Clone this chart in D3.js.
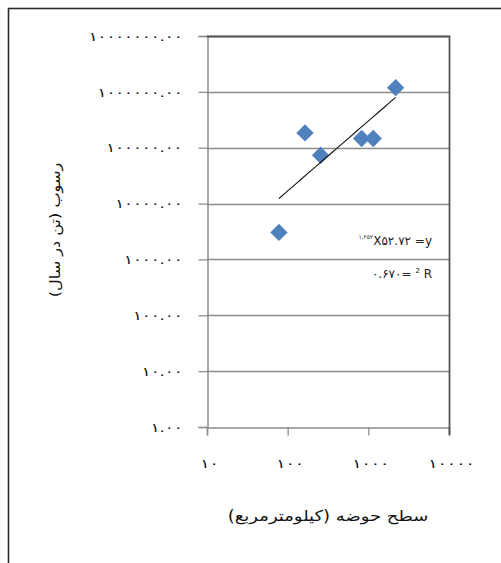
<!DOCTYPE html>
<html>
<head>
<meta charset="utf-8">
<script src="https://cdn.jsdelivr.net/npm/d3@7"></script>
<style>
  html, body { margin: 0; padding: 0; background: #fff; }
  svg { display: block; }
</style>
</head>
<body>
<script>
// Basin area (km²) and sediment load (tonnes/year)
const areaKm2 = [78, 164, 256, 826, 1150, 2180];
const sediment = [3040, 184000, 73400, 146000, 146000, 1190000];

// Power-law trend: y = a · x^b
const trendA = 52.72;
const trendB = 1.252;
const equationText = "X۵۲.۷۲ =y";
const exponentText = "۱.۲۵۲";
const r2Text = "۰.۶۷۰= ";

const yTicks = [1, 10, 100, 1000, 10000, 100000, 1000000, 10000000];
const xTicks = [10, 100, 1000, 10000];

const faDigits = "۰۱۲۳۴۵۶۷۸۹";
const toFa = s => String(s).replace(/[0-9]/g, d => faDigits[+d]);

const W = 501, H = 563;
const plot = { left: 207, right: 449, top: 36, bottom: 427 };

const svg = d3.select("body").append("svg")
  .attr("width", W).attr("height", H);

// outer chart frame (runs past the right and bottom edges)
svg.append("rect")
  .attr("x", 8.5).attr("y", 8.5)
  .attr("width", 600).attr("height", 700)
  .attr("fill", "none").attr("stroke", "#2b2b2b").attr("stroke-width", 1.6);

const x = d3.scaleLog().domain([10, 10000]).range([plot.left, plot.right]);
const y = d3.scaleLog().domain([1, 10000000]).range([plot.bottom, plot.top]);

const fontFa = "'DejaVu Sans', sans-serif";

// horizontal gridlines
svg.append("g").selectAll("line")
  .data(yTicks.slice(1))
  .join("line")
  .attr("x1", plot.left).attr("x2", plot.right)
  .attr("y1", d => Math.round(y(d)) + 0.5).attr("y2", d => Math.round(y(d)) + 0.5)
  .attr("stroke", "#8c8c8c").attr("stroke-width", 1.3);

// y axis
const yAxis = svg.append("g")
  .attr("transform", `translate(${plot.left + 0.5},0)`)
  .call(d3.axisLeft(y).tickValues(yTicks).tickSize(9)
    .tickFormat(d => toFa(d) + "." + toFa("00")));
yAxis.select(".domain").attr("stroke", "#8c8c8c").attr("stroke-width", 1.5);
yAxis.selectAll(".tick line").attr("stroke", "#8c8c8c").attr("stroke-width", 1.3);
yAxis.selectAll(".tick text")
  .attr("x", 0)
  .attr("transform", "translate(-25,0) scale(1.27,1)")
  .attr("font-family", fontFa).attr("font-size", 13).attr("fill", "#111");

// x axis
const xAxis = svg.append("g")
  .attr("transform", `translate(0,${plot.bottom + 0.5})`)
  .call(d3.axisBottom(x).tickValues(xTicks).tickSize(8)
    .tickFormat(d => toFa(d)));
xAxis.select(".domain").attr("stroke", "#8c8c8c").attr("stroke-width", 1.5);
xAxis.selectAll(".tick line").attr("stroke", "#8c8c8c").attr("stroke-width", 1.3);
xAxis.selectAll(".tick text")
  .attr("y", 0).attr("dy", 0)
  .attr("transform", "translate(2,40) scale(1.33,1)")
  .attr("font-family", fontFa).attr("font-size", 13).attr("fill", "#111");

// plot frame: top and right edges
svg.append("path")
  .attr("d", `M${plot.left},${plot.top + 0.5}H${plot.right + 0.5}V${plot.bottom + 8}`)
  .attr("fill", "none").attr("stroke", "#555").attr("stroke-width", 1.8);

// points
const diamond = d3.symbol().type(d3.symbolSquare).size(150);
svg.append("g").selectAll("path")
  .data(areaKm2.map((a, i) => [a, sediment[i]]))
  .join("path")
  .attr("d", diamond)
  .attr("transform", d => `translate(${x(d[0])},${y(d[1])}) rotate(45)`)
  .attr("fill", "#4f81bd");

// trend line across the data range
const [xmin, xmax] = d3.extent(areaKm2);
const trendPts = d3.range(0, 21).map(i => {
  const xv = Math.pow(10, Math.log10(xmin) + i / 20 * (Math.log10(xmax) - Math.log10(xmin)));
  return [xv, trendA * Math.pow(xv, trendB)];
});
svg.append("path")
  .datum(trendPts)
  .attr("d", d3.line().x(d => x(d[0])).y(d => y(d[1])))
  .attr("fill", "none").attr("stroke", "#111").attr("stroke-width", 1.1);

// equation and R²
const eq = svg.append("text")
  .attr("x", 432).attr("y", 245)
  .attr("text-anchor", "end")
  .attr("font-family", fontFa).attr("font-size", 12).attr("fill", "#222")
  .attr("direction", "ltr").attr("unicode-bidi", "bidi-override");
eq.append("tspan").attr("font-size", 6).attr("dy", -6).text(exponentText);
eq.append("tspan").attr("dy", 6).text(equationText);

const r2 = svg.append("text")
  .attr("x", 432).attr("y", 278)
  .attr("text-anchor", "end")
  .attr("font-family", fontFa).attr("font-size", 12).attr("fill", "#222")
  .attr("direction", "ltr").attr("unicode-bidi", "bidi-override");
r2.append("tspan").text(r2Text);
r2.append("tspan").attr("font-size", 7).attr("dy", -5).text("2");
r2.append("tspan").attr("dy", 5).text(" R");

// axis titles
svg.append("text")
  .attr("transform", "translate(328,521) scale(1.2,1)")
  .attr("text-anchor", "middle")
  .attr("font-family", fontFa).attr("font-size", 15).attr("fill", "#111")
  .attr("direction", "rtl")
  .text("سطح حوضه (کیلومترمربع)");

svg.append("text")
  .attr("transform", "translate(60,230) rotate(-90) scale(1.15,1)")
  .attr("text-anchor", "middle")
  .attr("font-family", fontFa).attr("font-size", 14).attr("fill", "#111")
  .attr("direction", "rtl")
  .text("رسوب (تن در سال)");
</script>
</body>
</html>
